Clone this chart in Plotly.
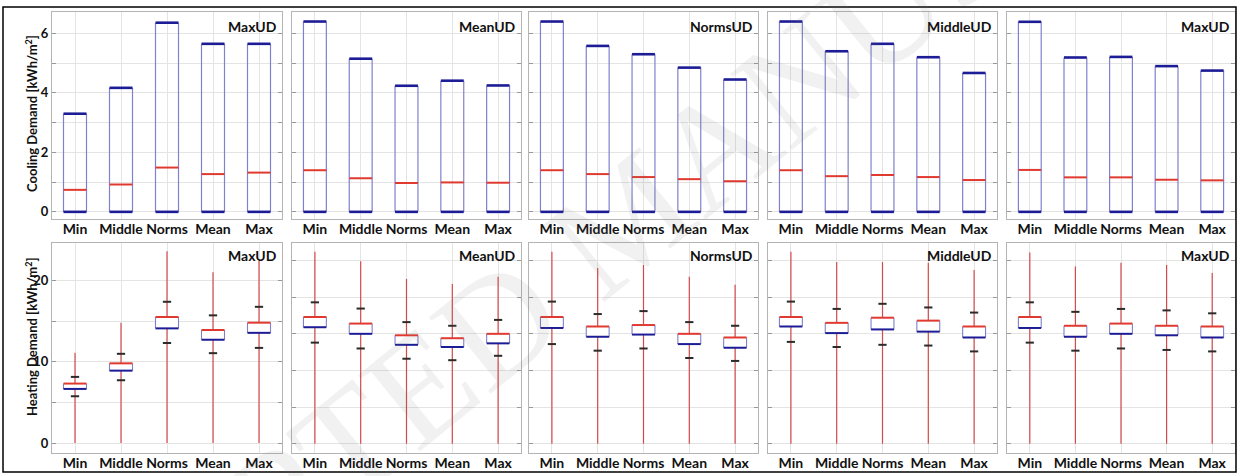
import plotly.graph_objects as go

# ---------------- data ----------------
categories = ["Min", "Middle", "Norms", "Mean", "Max"]
panel_labels = ["MaxUD", "MeanUD", "NormsUD", "MiddleUD", "MaxUD"]

# Cooling demand (top row): box from 0 up to upper value, red median
cool_low = [
    [0.0, 0.0, 0.0, 0.0, 0.0],
    [0.0, 0.0, 0.0, 0.0, 0.0],
    [0.0, 0.0, 0.0, 0.0, 0.0],
    [0.0, 0.0, 0.0, 0.0, 0.0],
    [0.0, 0.0, 0.0, 0.0, 0.0],
]
cool_high = [
    [3.30, 4.17, 6.36, 5.65, 5.65],
    [6.40, 5.15, 4.24, 4.41, 4.25],
    [6.40, 5.58, 5.30, 4.85, 4.45],
    [6.40, 5.40, 5.65, 5.20, 4.67],
    [6.39, 5.19, 5.21, 4.90, 4.75],
]
cool_median = [
    [0.74, 0.92, 1.49, 1.27, 1.32],
    [1.40, 1.13, 0.97, 0.99, 0.98],
    [1.40, 1.27, 1.17, 1.10, 1.03],
    [1.40, 1.20, 1.24, 1.17, 1.07],
    [1.41, 1.16, 1.16, 1.08, 1.06],
]

# Heating demand (bottom row)
heat_min = [
    [0.0, 0.0, 0.0, 0.0, 0.0],
    [0.0, 0.0, 0.0, 0.0, 0.0],
    [0.0, 0.0, 0.0, 0.0, 0.0],
    [0.0, 0.0, 0.0, 0.0, 0.0],
    [0.0, 0.0, 0.0, 0.0, 0.0],
]
heat_max = [
    [11.1, 14.8, 23.6, 21.0, 22.4],
    [26.2, 24.9, 22.5, 21.8, 22.8],
    [26.2, 24.0, 24.4, 22.8, 21.7],
    [26.2, 24.8, 24.8, 24.7, 23.7],
    [26.1, 24.2, 24.7, 24.4, 23.3],
]
heat_upper_cap = [
    [8.13, 10.97, 17.37, 15.70, 16.75],
    [19.3, 18.45, 16.6, 16.1, 16.9],
    [19.4, 17.7, 18.1, 16.6, 16.1],
    [19.4, 18.4, 19.1, 18.6, 17.9],
    [19.3, 18.0, 18.4, 18.2, 17.8],
]
heat_q3 = [
    [7.31, 9.80, 15.5, 13.9, 14.8],
    [17.3, 16.4, 14.8, 14.4, 15.0],
    [17.3, 16.0, 16.2, 15.0, 14.5],
    [17.3, 16.5, 17.2, 16.8, 16.0],
    [17.3, 16.1, 16.4, 16.1, 16.0],
]
heat_q1 = [
    [6.65, 8.90, 14.1, 12.7, 13.55],
    [15.9, 15.0, 13.5, 13.2, 13.7],
    [15.8, 14.6, 14.9, 13.6, 13.1],
    [16.0, 15.1, 15.6, 15.3, 14.5],
    [15.8, 14.6, 15.0, 14.8, 14.5],
]
heat_lower_cap = [
    [5.75, 7.72, 12.3, 11.05, 11.7],
    [13.8, 13.0, 11.6, 11.4, 12.0],
    [13.6, 12.7, 13.0, 11.7, 11.3],
    [13.9, 13.2, 13.5, 13.4, 12.6],
    [13.8, 12.7, 13.0, 12.8, 12.6],
]

# ---------------- styles ----------------
W = 1239
H = 476
panel_px = [(52, 282), (292, 521), (529, 758), (768, 997), (1007, 1235)]
top_px = (12, 219)
bot_px = (243, 453)

BOX_HALF = 0.25
CAP_HALF = 0.09
NAVY = "#1c1c96"
SIDE = "#8080cc"
RED = "#e03a30"
WHISK = "#d24a4a"
BLACK = "#2b2b2b"
GRID = "#e4e4e4"
FRAME = "#b4b4b4"
FONT = "Lato"

fig = go.Figure()


def ax_id(idx):
    return "" if idx == 1 else str(idx)


def hsegs(xc, y, half):
    xs, ys = [], []
    for x0, yy in zip(xc, y):
        xs += [x0 - half, x0 + half, None]
        ys += [yy, yy, None]
    return xs, ys


def vsegs(xc, y0, y1, dx=0.0):
    xs, ys = [], []
    for x0, a, b in zip(xc, y0, y1):
        xs += [x0 + dx, x0 + dx, None]
        ys += [a, b, None]
    return xs, ys


def line(xs, ys, color, width, xa, ya):
    fig.add_trace(go.Scatter(x=xs, y=ys, mode="lines", line=dict(color=color, width=width),
                             xaxis=xa, yaxis=ya, hoverinfo="skip", showlegend=False))


xpos = list(range(1, len(categories) + 1))

for p in range(5):
    # ---- top (cooling) ----
    xa, ya = "x" + ax_id(p + 1), "y" + ax_id(p + 1)
    xs, ys = vsegs(xpos, cool_low[p], cool_high[p], -BOX_HALF)
    line(xs, ys, SIDE, 1.2, xa, ya)
    xs, ys = vsegs(xpos, cool_low[p], cool_high[p], BOX_HALF)
    line(xs, ys, SIDE, 1.2, xa, ya)
    xs, ys = hsegs(xpos, cool_high[p], BOX_HALF)
    line(xs, ys, NAVY, 2.6, xa, ya)
    xs, ys = hsegs(xpos, cool_low[p], BOX_HALF)
    line(xs, ys, NAVY, 2.6, xa, ya)
    xs, ys = hsegs(xpos, cool_median[p], BOX_HALF)
    line(xs, ys, RED, 2, xa, ya)

    # ---- bottom (heating) ----
    xa, ya = "x" + ax_id(p + 6), "y" + ax_id(p + 6)
    xs, ys = vsegs(xpos, heat_min[p], heat_max[p])
    line(xs, ys, WHISK, 1.2, xa, ya)
    # white box body
    bx, by = [], []
    for x0, a, b in zip(xpos, heat_q1[p], heat_q3[p]):
        bx += [x0 - BOX_HALF, x0 + BOX_HALF, x0 + BOX_HALF, x0 - BOX_HALF, x0 - BOX_HALF, None]
        by += [a, a, b, b, a, None]
    fig.add_trace(go.Scatter(x=bx, y=by, mode="lines", fill="toself", fillcolor="white",
                             line=dict(color="rgba(0,0,0,0)", width=0), xaxis=xa, yaxis=ya,
                             hoverinfo="skip", showlegend=False))
    xs, ys = vsegs(xpos, heat_q1[p], heat_q3[p], -BOX_HALF)
    line(xs, ys, SIDE, 1.1, xa, ya)
    xs, ys = vsegs(xpos, heat_q1[p], heat_q3[p], BOX_HALF)
    line(xs, ys, SIDE, 1.1, xa, ya)
    xs, ys = hsegs(xpos, heat_q3[p], BOX_HALF)
    line(xs, ys, RED, 2, xa, ya)
    xs, ys = hsegs(xpos, heat_q1[p], BOX_HALF)
    line(xs, ys, NAVY, 2, xa, ya)
    xs, ys = hsegs(xpos, heat_upper_cap[p], CAP_HALF)
    line(xs, ys, BLACK, 2, xa, ya)
    xs, ys = hsegs(xpos, heat_lower_cap[p], CAP_HALF)
    line(xs, ys, BLACK, 2, xa, ya)

layout = dict(width=W, height=H, margin=dict(l=0, r=0, t=0, b=0, autoexpand=False),
              paper_bgcolor="white", plot_bgcolor="white", showlegend=False,
              font=dict(family=FONT, color="#111"))

annotations = []
for p in range(5):
    x0, x1 = panel_px[p]
    dom = [x0 / W, x1 / W]
    for row in range(2):
        idx = p + 1 + 5 * row
        sid = ax_id(idx)
        ypx = top_px if row == 0 else bot_px
        ydom = [1 - ypx[1] / H, 1 - ypx[0] / H]
        layout["xaxis" + sid] = dict(domain=dom, anchor="y" + sid, range=[0.5, 5.5],
                                     tickvals=xpos, ticktext=categories, tickangle=0,
                                     ticklabelstandoff=-3,
                                     tickfont=dict(size=14, family=FONT, weight="bold", color="#111"),
                                     showgrid=True, gridcolor=GRID, gridwidth=1,
                                     showline=True, linecolor=FRAME, linewidth=1, mirror=True,
                                     ticks="", zeroline=False, fixedrange=True, automargin=False)
        if row == 0:
            tv = [0, 1, 2, 3, 4, 5, 6]
            tt = ["0", "", "2", "", "4", "", "6"] if p == 0 else [""] * 7
            yr = [-0.24, 6.72]
        else:
            tv = [0, 5, 10, 15, 20, 25]
            tt = ["0", "", "10", "", "20", ""] if p == 0 else [""] * 6
            yr = [-1.23, 24.6] if p == 0 else [-1.27, 27.4]
        layout["yaxis" + sid] = dict(domain=ydom, anchor="x" + sid, range=yr, tickvals=tv, ticktext=tt,
                                     tickfont=dict(size=13, family=FONT, weight="bold", color="#111"),
                                     showgrid=True, gridcolor=GRID, gridwidth=1,
                                     showline=True, linecolor=FRAME, linewidth=1, mirror="allticks",
                                     ticks="inside", ticklen=4, tickcolor="#999",
                                     zeroline=False, fixedrange=True, automargin=False)
        annotations.append(dict(text=panel_labels[p], xref="x" + sid + " domain", yref="y" + sid + " domain",
                                x=0.985, y=0.93 if row == 0 else 0.94, xanchor="right", yanchor="middle",
                                showarrow=False,
                                font=dict(size=14, family=FONT, weight="bold", color="#111")))

annotations.append(dict(text="Cooling Demand [kWh/m<sup>2</sup>]", xref="paper", yref="paper",
                        x=31 / W, y=1 - 114 / H, xanchor="center", yanchor="middle",
                        textangle=-90, showarrow=False,
                        font=dict(size=13, family=FONT, weight="bold", color="#111")))
annotations.append(dict(text="Heating Demand [kWh/m<sup>2</sup>]", xref="paper", yref="paper",
                        x=31 / W, y=1 - 337 / H, xanchor="center", yanchor="middle",
                        textangle=-90, showarrow=False,
                        font=dict(size=13, family=FONT, weight="bold", color="#111")))
# watermark
annotations.append(dict(text="ACCEPTED MANUSCRIPT", xref="paper", yref="paper",
                        x=628 / W, y=1 - 217 / H, xanchor="center", yanchor="middle",
                        textangle=-39, showarrow=False,
                        font=dict(size=150, family="Liberation Serif", color="rgba(120,120,120,0.10)")))
layout["annotations"] = annotations
layout["shapes"] = [dict(type="rect", xref="paper", yref="paper",
                         x0=3 / W, x1=1236 / W, y0=1 - 472 / H, y1=1 - 7 / H,
                         line=dict(color="black", width=1.5), fillcolor="rgba(0,0,0,0)", layer="above")]

fig.update_layout(**layout)
fig.write_html("out.html")
